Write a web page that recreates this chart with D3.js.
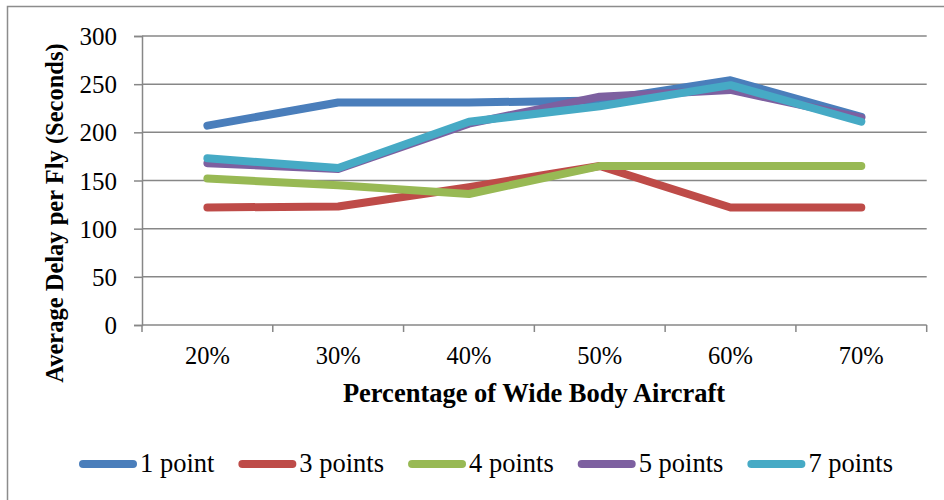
<!DOCTYPE html>
<html><head><meta charset="utf-8">
<script src="https://cdn.jsdelivr.net/npm/d3@7"></script>
<style>body{margin:0;background:#fff}svg{display:block}svg text{font-family:"Liberation Serif","Times New Roman",Times,serif}</style>
</head><body>
<script>
const categories = ["20%","30%","40%","50%","60%","70%"];
const seriesNames = ["1 point","3 points","4 points","5 points","7 points"];
const s1 = [207, 231, 231, 233, 254, 216];
const s3 = [122, 123, 143, 165, 122, 122];
const s4 = [152, 145, 136, 165, 165, 165];
const s5 = [168, 162, 209, 237, 244, 215];
const s7 = [173, 163, 211, 227, 249, 211];
const yTicks = [0,50,100,150,200,250,300];
const colors = ["#4a7ebb","#be4b48","#98b954","#7d60a0","#46aac5"];
const allSeries = [s1,s3,s4,s5,s7];

const W=944,H=500;
const svg=d3.select("body").append("svg").attr("width",W).attr("height",H);
const font='"Liberation Serif","Times New Roman",Times,serif';

// outer border (left + top visible)
svg.append("path").attr("d","M7.5,500 V6.5 H944").attr("fill","none").attr("stroke","#8c8c8c").attr("stroke-width",1.5);

const x0=142,x1=926.7,yTop=36,yBot=325;
const x=d3.scaleBand().domain(categories).range([x0,x1]);
const y=d3.scaleLinear().domain([0,300]).range([yBot,yTop]);

// gridlines
svg.append("g").selectAll("line").data(yTicks.slice(1)).join("line")
  .attr("x1",x0).attr("x2",x1).attr("y1",d=>y(d)).attr("y2",d=>y(d))
  .attr("stroke","#878787").attr("stroke-width",1.5);

// y axis
const ya=svg.append("g").attr("transform",`translate(${x0},0)`)
  .call(d3.axisLeft(y).tickValues(yTicks).tickSize(8).tickPadding(17));
ya.attr("font-family",null);
ya.select(".domain").attr("stroke","#878787").attr("stroke-width",1.5);
ya.selectAll(".tick line").attr("stroke","#878787").attr("stroke-width",1.5);
ya.selectAll("text").style("font-family",font).style("font-size","25px").attr("fill","#000").attr("dy","0.34em");

// x axis
const xa=svg.append("g").attr("transform",`translate(0,${yBot})`)
  .call(d3.axisBottom(x).tickSize(0).tickPadding(22));
xa.attr("font-family",null);
xa.select(".domain").attr("stroke","#878787").attr("stroke-width",1.5).attr("d",`M${x0},0H${x1}`);
xa.selectAll("text").style("font-family",font).style("font-size","24.5px").attr("fill","#000");
// boundary ticks
const bounds=categories.map(c=>x(c)).concat([x1]);
svg.append("g").selectAll("line").data(bounds).join("line")
  .attr("x1",d=>d).attr("x2",d=>d).attr("y1",yBot).attr("y2",yBot+7)
  .attr("stroke","#878787").attr("stroke-width",1.5);

// lines
const line=d3.line().x((d,i)=>x(categories[i])+x.bandwidth()/2).y(d=>y(d));
svg.append("g").selectAll("path").data(allSeries).join("path")
  .attr("d",line).attr("fill","none").attr("stroke",(d,i)=>colors[i])
  .attr("stroke-width",8).attr("stroke-linecap","round").attr("stroke-linejoin","round");

// axis titles
svg.append("text").attr("x",534).attr("y",402).attr("text-anchor","middle")
  .style("font-family",font).style("font-weight","bold").style("font-size","26.5px")
  .text("Percentage of Wide Body Aircraft");
svg.append("text").attr("transform","translate(63,213) rotate(-90)").attr("text-anchor","middle")
  .style("font-family",font).style("font-weight","bold").style("font-size","24.5px")
  .text("Average Delay per Fly (Seconds)");

// legend
const lg=svg.append("g");
let lx=79;
seriesNames.forEach((n,i)=>{
  lg.append("line").attr("x1",lx+4).attr("x2",lx+54).attr("y1",464).attr("y2",464)
    .attr("stroke",colors[i]).attr("stroke-width",8).attr("stroke-linecap","round");
  const t=lg.append("text").attr("x",lx+61).attr("y",472).style("font-family",font).style("font-size","26.5px").text(n);
  lx+=61+t.node().getComputedTextLength()+24;
});
</script>
</body></html>
